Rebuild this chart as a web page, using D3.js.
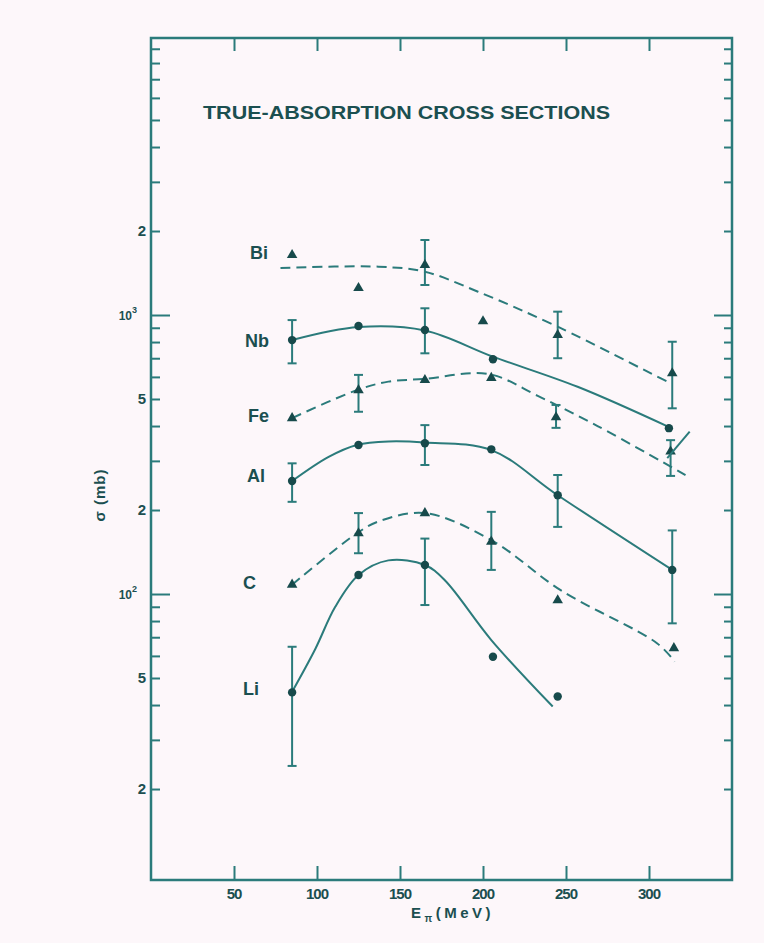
<!DOCTYPE html>
<html>
<head>
<meta charset="utf-8">
<script src="https://cdn.jsdelivr.net/npm/d3@7/dist/d3.min.js"></script>
<style>
  html, body { margin: 0; padding: 0; background: #fdf7fa; }
  svg { display: block; }
  text { font-family: "Liberation Sans", Arial, sans-serif; fill: #1b4f50; }
</style>
</head>
<body>
<svg id="chart" width="764" height="943"></svg>
<script>
// ---------- data ----------
const titleText = "TRUE-ABSORPTION CROSS SECTIONS";
const xTickValues = [50, 100, 150, 200, 250, 300];
const yMajorTicks = [100, 1000];
const yMinorTicks = [20,30,40,50,60,70,80,90,200,300,400,500,600,700,800,900,2000,3000,4000,5000,6000,7000,8000,9000];
const yTickLabels = [
  {v: 20, t: "2"}, {v: 50, t: "5"}, {v: 100, t: "10", sup: "2"},
  {v: 200, t: "2"}, {v: 500, t: "5"}, {v: 1000, t: "10", sup: "3"}, {v: 2000, t: "2"}
];

// measured points: energy (MeV), cross section (mb), error bars [lo, hi]
const biE   = [85, 125, 165, 200, 245, 314];
const biS   = [1640, 1250, 1510, 950, 848, 618];
const biErr = [null, null, [1281, 1857], null, [700, 1028], [463, 802]];

const nbE   = [85, 125, 165, 206, 312];
const nbS   = [813, 913, 884, 694, 393];
const nbErr = [[671, 959], null, [729, 1057], null, null];

const feE   = [85, 125, 165, 205, 244, 313];
const feS   = [427, 538, 585, 595, 430, 324];
const feErr = [null, [450, 610], null, null, [394, 476], [265, 356]];

const alE   = [85, 125, 165, 205, 245, 314];
const alS   = [254, 342, 347, 330, 226, 122];
const alErr = [[214, 294], null, [290, 403], null, [174, 267], [78.5, 169]];

const cE    = [85, 125, 165, 205, 245, 315];
const cS    = [108, 165, 195, 154, 95, 64];
const cErr  = [null, [140, 195], null, [122, 197], null, null];

const liE   = [85, 125, 165, 206, 245];
const liS   = [44.4, 117, 127, 59.6, 42.9];
const liErr = [[24.2, 64.7], null, [91.3, 158], null, null];

// hand-drawn guide curves (energy, cross section)
const biCurveE = [78, 137, 165, 197, 245, 309, 313];
const biCurveS = [1474, 1490, 1429, 1212, 908, 585, 570];
const nbCurveE = [85, 125, 165, 206, 257, 311.5];
const nbCurveS = [813, 905, 880, 709, 553, 398];
const feCurveE = [85, 124, 143, 165, 203, 233, 269, 322];
const feCurveS = [427, 538, 577, 590, 615, 513, 400, 267];
const alCurveE = [85, 107, 124, 143, 165, 205, 245, 314];
const alCurveS = [254, 310, 342, 352, 349, 328, 226, 122];
const cCurveE  = [85, 124, 137, 165, 205, 247, 305, 315.5];
const cCurveS  = [108, 165, 182, 195, 156, 103, 66.5, 57.2];
const liCurveE = [84.8, 98.9, 111, 125, 143, 165, 177, 205, 242];
const liCurveS = [44.4, 63.4, 90, 117, 132, 127, 112, 68.4, 39.5];
const slashE = [311, 324.5];
const slashS = [307, 382];

const labelNames = ["Bi", "Nb", "Fe", "Al", "C", "Li"];

// ---------- layout ----------
const svg = d3.select("#chart");
const L = 151, R = 732, T = 38, B = 880;
const ink = "#174a4b", axisCol = "#2b7b7b";

const x = d3.scaleLinear().domain([0, 350]).range([L, R]);
const y = d3.scaleLog().domain([9.44, 9836]).range([B, T]);

// frame
svg.append("rect").attr("x", L).attr("y", T).attr("width", R - L).attr("height", B - T)
  .attr("fill", "none").attr("stroke", axisCol).attr("stroke-width", 2.5);

function styleAxis(g) {
  g.select(".domain").remove();
  g.selectAll(".tick line").attr("stroke", axisCol).attr("stroke-width", 2);
  g.selectAll(".tick text").remove();
}
// x axes (ticks inward)
svg.append("g").attr("transform", `translate(0,${B})`)
  .call(d3.axisBottom(x).tickValues(xTickValues).tickSize(-14).tickFormat(""))
  .call(styleAxis);
svg.append("g").attr("transform", `translate(0,${T})`)
  .call(d3.axisTop(x).tickValues(xTickValues).tickSize(-13).tickFormat(""))
  .call(styleAxis);
// y axes
svg.append("g").attr("transform", `translate(${L},0)`)
  .call(d3.axisLeft(y).tickValues(yMinorTicks).tickSize(-9).tickFormat("")).call(styleAxis);
svg.append("g").attr("transform", `translate(${L},0)`)
  .call(d3.axisLeft(y).tickValues(yMajorTicks).tickSize(-19).tickFormat("")).call(styleAxis);
svg.append("g").attr("transform", `translate(${R},0)`)
  .call(d3.axisRight(y).tickValues(yMinorTicks).tickSize(-8).tickFormat("")).call(styleAxis);
svg.append("g").attr("transform", `translate(${R},0)`)
  .call(d3.axisRight(y).tickValues(yMajorTicks).tickSize(-18).tickFormat("")).call(styleAxis);

// x tick labels
svg.append("g").selectAll("text").data(xTickValues).join("text")
  .attr("x", d => x(d)).attr("y", B + 19)
  .attr("text-anchor", "middle").attr("font-size", 15).attr("font-weight", "bold")
  .attr("letter-spacing", -1)
  .text(d => d);

// y tick labels
const yl = svg.append("g").selectAll("text").data(yTickLabels).join("text")
  .attr("x", d => d.sup ? 137 : 146).attr("y", d => y(d.v) + 5)
  .attr("text-anchor", "end").attr("font-size", 15).attr("font-weight", "bold");
yl.append("tspan").text(d => d.t).attr("font-size", d => d.sup ? 12 : 15);
yl.filter(d => d.sup).append("tspan").text(d => d.sup)
  .attr("font-size", 9).attr("dy", -7);

// axis titles
const xt = svg.append("text").attr("x", 411).attr("y", 918).attr("text-anchor", "start")
  .attr("font-size", 15).attr("font-weight", "bold").attr("letter-spacing", 3.5);
xt.append("tspan").text("E");
xt.append("tspan").text("π").attr("font-size", 10).attr("dy", 4);
xt.append("tspan").text("(MeV)").attr("dy", -4);

svg.append("text").attr("transform", "translate(105,495) rotate(-90)")
  .attr("text-anchor", "middle").attr("font-size", 15).attr("font-weight", "bold")
  .attr("letter-spacing", 1).text("σ (mb)");

// title
svg.append("text").attr("x", 203).attr("y", 119)
  .attr("textLength", 407).attr("lengthAdjust", "spacingAndGlyphs")
  .attr("font-size", 19).attr("font-weight", "bold").text(titleText);

// ---------- series ----------
const series = [
  {name: "Bi", E: biE, S: biS, err: biErr, cE: biCurveE, cS: biCurveS, dash: true,  marker: "tri"},
  {name: "Nb", E: nbE, S: nbS, err: nbErr, cE: nbCurveE, cS: nbCurveS, dash: false, marker: "dot"},
  {name: "Fe", E: feE, S: feS, err: feErr, cE: feCurveE, cS: feCurveS, dash: true,  marker: "tri"},
  {name: "Al", E: alE, S: alS, err: alErr, cE: alCurveE, cS: alCurveS, dash: false, marker: "dot"},
  {name: "C",  E: cE,  S: cS,  err: cErr,  cE: cCurveE,  cS: cCurveS,  dash: true,  marker: "tri"},
  {name: "Li", E: liE, S: liS, err: liErr, cE: liCurveE, cS: liCurveS, dash: false, marker: "dot"}
];

const line = d3.line().x(d => x(d[0])).y(d => y(d[1])).curve(d3.curveCatmullRom.alpha(0.5));
const plot = svg.append("g");

series.forEach(s => {
  const pts = s.cE.map((e, i) => [e, s.cS[i]]);
  plot.append("path").datum(pts).attr("d", line)
    .attr("fill", "none").attr("stroke", axisCol).attr("stroke-width", 2)
    .attr("stroke-dasharray", s.dash ? "10,6" : null);

  const data = s.E.map((e, i) => ({e, v: s.S[i], err: s.err[i]}));
  const g = plot.append("g");
  data.filter(d => d.err).forEach(d => {
    const cx = x(d.e), y0 = y(d.err[0]), y1 = y(d.err[1]);
    g.append("line").attr("x1", cx).attr("x2", cx).attr("y1", y0).attr("y2", y1)
      .attr("stroke", axisCol).attr("stroke-width", 2);
    [y0, y1].forEach(yy => g.append("line").attr("x1", cx - 4.5).attr("x2", cx + 4.5)
      .attr("y1", yy).attr("y2", yy).attr("stroke", axisCol).attr("stroke-width", 2));
  });
  if (s.marker === "dot") {
    g.selectAll("circle").data(data).join("circle")
      .attr("cx", d => x(d.e)).attr("cy", d => y(d.v)).attr("r", 4.2).attr("fill", ink);
  } else {
    const tri = d3.symbol().type(d3.symbolTriangle).size(48);
    g.selectAll("path").data(data).join("path")
      .attr("transform", d => `translate(${x(d.e)},${y(d.v)})`).attr("d", tri).attr("fill", ink);
  }
});

// small solid slash near the 314 MeV column
plot.append("path").datum(slashE.map((e, i) => [e, slashS[i]]))
  .attr("d", d3.line().x(d => x(d[0])).y(d => y(d[1])))
  .attr("stroke", axisCol).attr("stroke-width", 2).attr("fill", "none");

// element labels
const labelPos = [[250, 259], [245, 347], [248, 422], [247, 482], [243, 589], [243, 695]];
svg.append("g").selectAll("text").data(labelNames).join("text")
  .attr("x", (d, i) => labelPos[i][0]).attr("y", (d, i) => labelPos[i][1])
  .attr("font-size", 18).attr("font-weight", "bold").text(d => d);
</script>
</body>
</html>
